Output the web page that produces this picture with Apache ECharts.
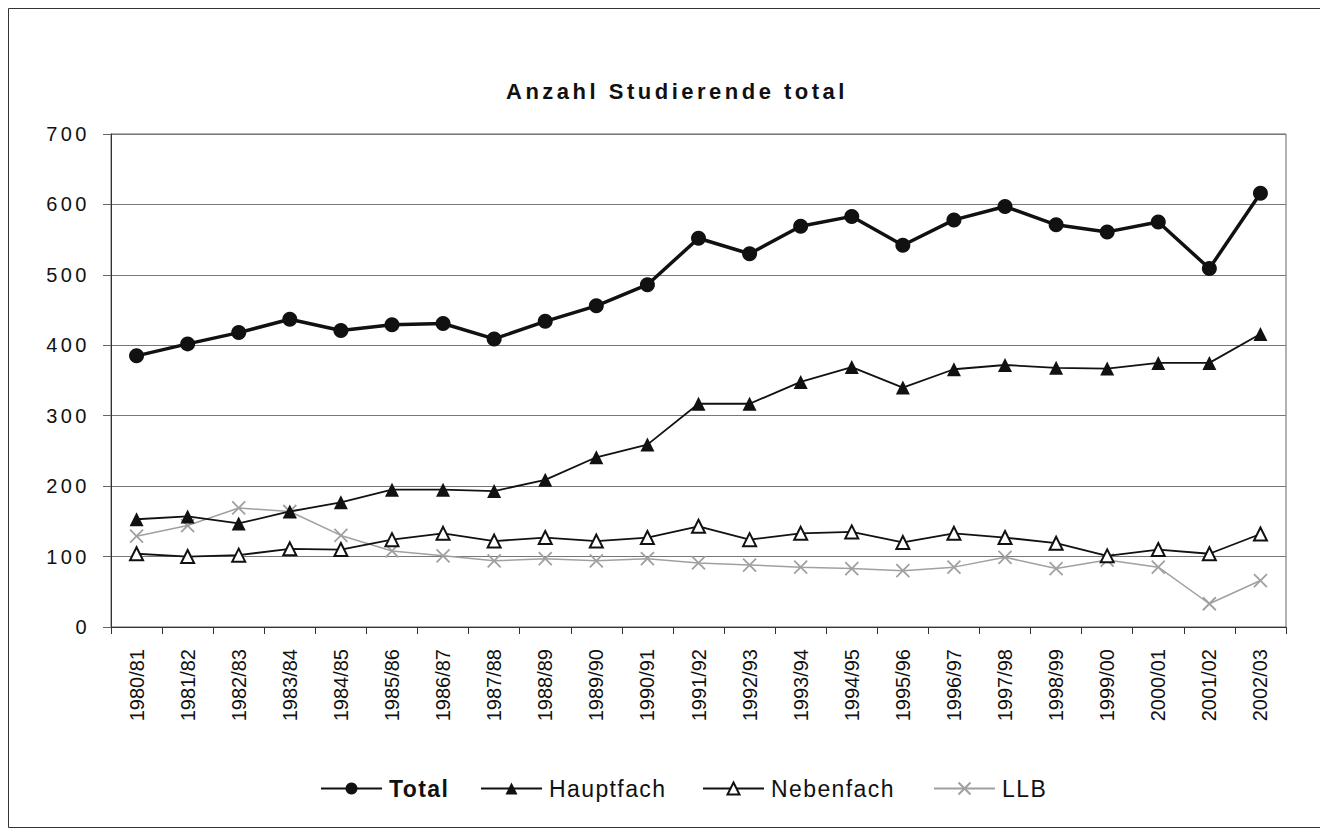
<!DOCTYPE html>
<html>
<head>
<meta charset="utf-8">
<script src="https://cdn.jsdelivr.net/npm/echarts@6/dist/echarts.min.js"></script>
<style>
html,body{margin:0;padding:0;background:#fff}
#c{width:1320px;height:832px}
#c text[style*="ttlfont"]{letter-spacing:3.5px}
#c text[style*="ylabfont"]{letter-spacing:3.5px}
#c text[style*="legfont"]{letter-spacing:1.4px}
</style>
</head>
<body>
<div id="c"></div>
<script>
const categories = ['1980/81','1981/82','1982/83','1983/84','1984/85','1985/86','1986/87','1987/88','1988/89','1989/90','1990/91','1991/92','1992/93','1993/94','1994/95','1995/96','1996/97','1997/98','1998/99','1999/00','2000/01','2001/02','2002/03'];
const total = [385, 402, 418, 437, 421, 429, 431, 409, 434, 456, 486, 552, 530, 569, 583, 542, 578, 597, 571, 561, 575, 509, 616];
const hauptfach = [153, 157, 147, 164, 177, 195, 195, 193, 209, 241, 259, 317, 317, 348, 369, 340, 366, 372, 368, 367, 375, 375, 416];
const nebenfach = [104, 100, 102, 111, 110, 124, 133, 122, 127, 122, 127, 143, 124, 133, 135, 120, 133, 127, 119, 101, 110, 104, 132];
const llb = [129, 144, 169, 164, 130, 108, 101, 94, 97, 94, 97, 91, 88, 85, 83, 80, 85, 99, 83, 95, 85, 33, 66];
const yTicks = [0, 100, 200, 300, 400, 500, 600, 700];

const chart = echarts.init(document.getElementById('c'), null, {renderer: 'svg'});
const FONT = 'Liberation Sans, Arial, sans-serif';
const crossPath = 'path://M0,0L10,10M10,0L0,10';

function legendAt(name, left, bold) {
  return {
    data: [name], left: left, top: 777, padding: 0,
    itemWidth: 61, itemHeight: 15, itemGap: 0,
    selectedMode: false,
    textStyle: {fontFamily: 'Liberation Sans, legfont, Arial, sans-serif', fontSize: 23, color: '#111', fontWeight: bold ? 'bold' : 'normal', padding: [0,0,0,2]}
  };
}

chart.setOption({
  animation: false,
  backgroundColor: '#fff',
  title: {
    text: 'Anzahl Studierende total', left: 677, top: 80, padding: 0, textAlign: 'center',
    textStyle: {fontFamily: 'Liberation Sans, ttlfont, Arial, sans-serif', fontSize: 22, fontWeight: 'bold', color: '#111'}
  },
  graphic: [{type: 'rect', shape: {x: 8.5, y: 8.5, width: 1330, height: 819}, style: {fill: 'none', stroke: '#333', lineWidth: 1}, silent: true}],
  legend: [legendAt('Total', 320, true), legendAt('Hauptfach', 480, false), legendAt('Nebenfach', 702, false), legendAt('LLB', 933, false)],
  grid: {left: 111, top: 134, right: 34, bottom: 205, show: true, borderColor: '#666', borderWidth: 1, containLabel: false},
  xAxis: {
    type: 'category', data: categories, boundaryGap: true,
    axisLine: {lineStyle: {color: '#333', width: 1}},
    axisTick: {show: true, length: 7, lineStyle: {color: '#333'}},
    axisLabel: {rotate: 90, margin: 22, fontFamily: FONT, fontSize: 20, color: '#111', interval: 0}
  },
  yAxis: {
    type: 'value', min: 0, max: 700, interval: 100,
    axisLine: {show: true, lineStyle: {color: '#333', width: 1}},
    axisTick: {show: true, length: 8, lineStyle: {color: '#666'}},
    axisLabel: {margin: 21, fontFamily: 'Liberation Sans, ylabfont, Arial, sans-serif', fontSize: 20, color: '#111',
      formatter: v => yTicks.includes(v) ? String(v) : ''},
    splitLine: {show: true, lineStyle: {color: '#777', width: 1}}
  },
  series: [
    {name: 'LLB', type: 'line', data: llb, symbol: crossPath, symbolSize: 13,
      lineStyle: {color: '#a0a0a0', width: 1.5}, itemStyle: {color: '#a0a0a0', borderColor: '#a0a0a0', borderWidth: 1.8}, z: 2},
    {name: 'Nebenfach', type: 'line', data: nebenfach, symbol: 'triangle', symbolSize: 13,
      lineStyle: {color: '#111', width: 1.8}, itemStyle: {color: '#fff', borderColor: '#111', borderWidth: 2}, z: 3},
    {name: 'Hauptfach', type: 'line', data: hauptfach, symbol: 'triangle', symbolSize: 14,
      lineStyle: {color: '#111', width: 1.8}, itemStyle: {color: '#111'}, z: 4},
    {name: 'Total', type: 'line', data: total, symbol: 'circle', symbolSize: 15,
      lineStyle: {color: '#111', width: 3.5}, itemStyle: {color: '#111'}, z: 5}
  ]
});
</script>
</body>
</html>
